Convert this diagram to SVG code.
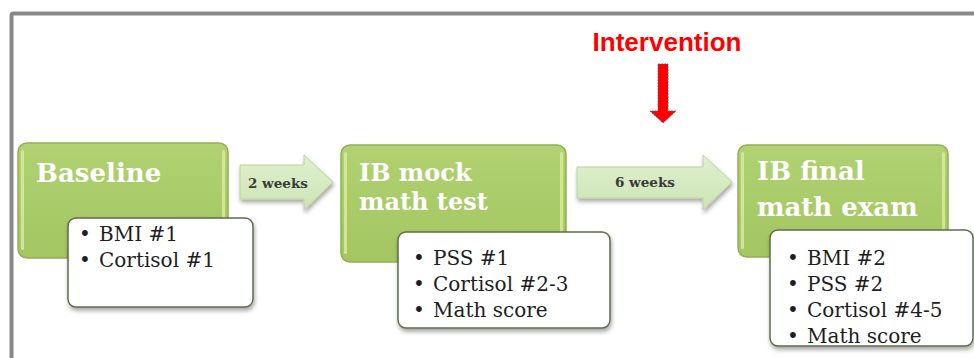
<svg xmlns="http://www.w3.org/2000/svg" width="974" height="358" viewBox="0 0 974 358">
<style>
.title{font-family:"DejaVu Serif","Liberation Serif",serif;font-weight:bold;font-size:26px;fill:#ffffff}
.item{font-family:"DejaVu Serif","Liberation Serif",serif;font-size:20px;fill:#1e1e1e}
.lbl{font-family:"DejaVu Serif","Liberation Serif",serif;font-weight:bold;font-size:13.5px;fill:#3a3a3a}
.green{fill:url(#gGreen);stroke:#92b052;stroke-width:1.5}
.white{fill:#ffffff;stroke:#5f6b4c;stroke-width:1.5;filter:url(#shadow)}
.step{fill:url(#gStep);stroke:#b9d49c;stroke-width:1;filter:url(#shadow)}
.hl{fill:#dbeea0;opacity:0.8}
</style>
<defs>
<linearGradient id="gGreen" x1="0" y1="0" x2="0" y2="1">
<stop offset="0" stop-color="#b2d273"/>
<stop offset="0.5" stop-color="#a9cb68"/>
<stop offset="1" stop-color="#a3c663"/>
</linearGradient>
<linearGradient id="gStep" x1="0" y1="0" x2="0" y2="1">
<stop offset="0" stop-color="#e0f0cf"/>
<stop offset="1" stop-color="#cde4b4"/>
</linearGradient>
<filter id="shadow" x="-10%" y="-10%" width="130%" height="140%">
<feDropShadow dx="1" dy="3" stdDeviation="2" flood-color="#000000" flood-opacity="0.35"/>
</filter>
</defs>
<rect x="11.5" y="13.5" width="990" height="370" rx="2" fill="#ffffff" stroke="#888888" stroke-width="4"/>

<g id="intervention">
<text x="667" y="51" text-anchor="middle" font-family="Liberation Sans, Arial, sans-serif" font-weight="bold" font-size="26" fill="#ff0000" textLength="149" lengthAdjust="spacingAndGlyphs">Intervention</text>
<polygon points="658,64 668,64 668,111 676,111 663,123 650,111 658,111" fill="#ff0000" stroke="#55557a" stroke-width="0.8" stroke-dasharray="2,1"/>
</g>

<g id="connectors">
<polygon class="step" points="240,165 304,165 304,155 333,182 304,210 304,199 240,199"/>
<text class="lbl" x="248" y="188">2 weeks</text>
<polygon class="step" points="577,167 703,167 703,155 732,182 703,210 703,198 577,198"/>
<text class="lbl" x="615" y="187">6 weeks</text>
</g>

<g id="baseline">
<rect class="green" x="18" y="143" width="210" height="115" rx="9"/>
<rect class="hl" x="21" y="150" width="3" height="100" rx="1.5"/>
<rect class="hl" x="222" y="150" width="3" height="100" rx="1.5"/>
<text class="title" x="36" y="182">Baseline</text>
<rect class="white" x="68" y="218" width="185" height="89" rx="8"/>
<text class="item" x="79" y="241">•</text><text class="item" x="99" y="241">BMI #1</text>
<text class="item" x="79" y="267">•</text><text class="item" x="99" y="267">Cortisol #1</text>
</g>

<g id="mock">
<rect class="green" x="341" y="145" width="225" height="117" rx="9"/>
<rect class="hl" x="344" y="152" width="3" height="102" rx="1.5"/>
<rect class="hl" x="560" y="152" width="3" height="102" rx="1.5"/>
<text class="title" x="359" y="181" style="font-size:24px">IB mock<tspan x="359" dy="28.5">math test</tspan></text>
<rect class="white" x="398" y="232" width="212" height="96" rx="8"/>
<text class="item" x="413" y="265">•</text><text class="item" x="433" y="265">PSS #1</text>
<text class="item" x="413" y="291">•</text><text class="item" x="433" y="291">Cortisol #2-3</text>
<text class="item" x="413" y="317">•</text><text class="item" x="433" y="317">Math score</text>
</g>

<g id="final">
<rect class="green" x="738" y="145" width="210" height="112" rx="9"/>
<rect class="hl" x="741" y="152" width="3" height="97" rx="1.5"/>
<rect class="hl" x="942" y="152" width="3" height="97" rx="1.5"/>
<text class="title" x="757" y="180">IB final<tspan x="757" dy="36">math exam</tspan></text>
<rect class="white" x="770" y="230" width="203" height="116" rx="8"/>
<text class="item" x="787" y="265">•</text><text class="item" x="807" y="265">BMI #2</text>
<text class="item" x="787" y="291">•</text><text class="item" x="807" y="291">PSS #2</text>
<text class="item" x="787" y="317">•</text><text class="item" x="807" y="317">Cortisol #4-5</text>
<text class="item" x="787" y="343">•</text><text class="item" x="807" y="343">Math score</text>
</g>
</svg>
